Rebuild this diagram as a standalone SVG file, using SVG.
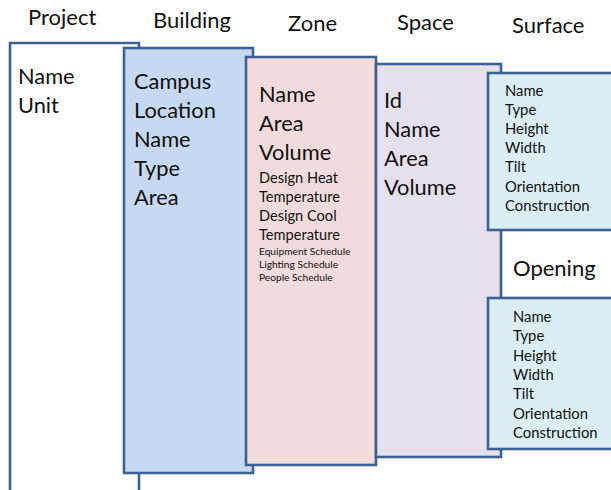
<svg xmlns="http://www.w3.org/2000/svg" width="611" height="490" viewBox="0 0 611 490">
<style>
text{font-family:Lato,"Open Sans","Liberation Sans",sans-serif;fill:#111}
.box{stroke:#3c6291;stroke-width:2.6}
.t{font-size:22px}
.b{font-size:21.8px}
.m{font-size:14.8px}
.s{font-size:10.2px}
</style>
<rect width="611" height="490" fill="#fff"/>
<g id="project">
<path class="box" d="M10,495 L10,43 L139,43 L139,495" fill="#fff"/>
<text class="t" x="28" y="25">Project</text>
<text class="b" x="18" y="84">Name</text>
<text class="b" x="18" y="113">Unit</text>
</g>
<g id="building">
<rect class="box" x="124" y="48" width="129" height="425" fill="#c6d9f0"/>
<text class="t" x="153" y="28">Building</text>
<text class="b" x="134" y="89">Campus</text>
<text class="b" x="134" y="118">Location</text>
<text class="b" x="134" y="147">Name</text>
<text class="b" x="134" y="176">Type</text>
<text class="b" x="134" y="205">Area</text>
</g>
<g id="zone">
<rect class="box" x="246" y="57" width="130" height="408" fill="#f2dcdb"/>
<text class="t" x="288" y="31">Zone</text>
<text class="b" x="259" y="102">Name</text>
<text class="b" x="259" y="131">Area</text>
<text class="b" x="259" y="160">Volume</text>
<text class="m" x="259" y="183" style="font-size:14.6px">Design Heat</text>
<text class="m" x="259" y="202" style="font-size:14.6px">Temperature</text>
<text class="m" x="259" y="221" style="font-size:14.6px">Design Cool</text>
<text class="m" x="259" y="240" style="font-size:14.6px">Temperature</text>
<text class="s" x="259" y="255">Equipment Schedule</text>
<text class="s" x="259" y="268">Lighting Schedule</text>
<text class="s" x="259" y="281">People Schedule</text>
</g>
<g id="space">
<rect class="box" x="376" y="64" width="125" height="393" fill="#e5e0ec"/>
<text class="t" x="397" y="30">Space</text>
<text class="b" x="384" y="108">Id</text>
<text class="b" x="384" y="137">Name</text>
<text class="b" x="384" y="166">Area</text>
<text class="b" x="384" y="195">Volume</text>
</g>
<g id="surface">
<rect class="box" x="488" y="73" width="140" height="157" fill="#dbeef4"/>
<text class="t" x="512" y="33">Surface</text>
<text class="m" x="505" y="96">Name</text>
<text class="m" x="505" y="115">Type</text>
<text class="m" x="505" y="134">Height</text>
<text class="m" x="505" y="153">Width</text>
<text class="m" x="505" y="172">Tilt</text>
<text class="m" x="505" y="192">Orientation</text>
<text class="m" x="505" y="211">Construction</text>
</g>
<g id="opening">
<rect class="box" x="488" y="298" width="140" height="151" fill="#dbeef4"/>
<text class="t" x="513" y="276">Opening</text>
<text class="m" x="513" y="322">Name</text>
<text class="m" x="513" y="341">Type</text>
<text class="m" x="513" y="361">Height</text>
<text class="m" x="513" y="380">Width</text>
<text class="m" x="513" y="399">Tilt</text>
<text class="m" x="513" y="419">Orientation</text>
<text class="m" x="513" y="438">Construction</text>
</g>
<g id="connectors"></g>
</svg>
